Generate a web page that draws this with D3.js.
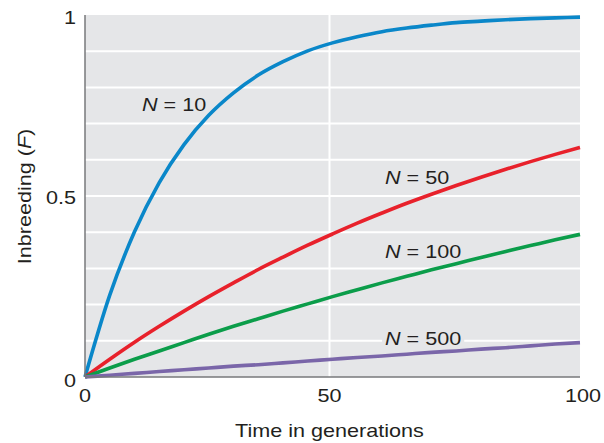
<!DOCTYPE html>
<html><head><meta charset="utf-8">
<script src="https://cdn.jsdelivr.net/npm/d3@7"></script>
<style>body{margin:0;background:#fff}svg{display:block;font-family:"Liberation Sans",Arial,Helvetica,sans-serif}</style>
</head><body><svg id="c" width="604" height="443"></svg>
<script>
const generations = [0,5,10,15,20,25,30,35,40,45,50,55,60,65,70,75,80,85,90,95,100];
const f_N10  = [0,0.226,0.401,0.537,0.642,0.723,0.785,0.834,0.871,0.901,0.923,0.940,0.954,0.964,0.972,0.979,0.983,0.987,0.990,0.992,0.994];
const f_N50  = [0,0.049,0.096,0.140,0.182,0.222,0.260,0.297,0.331,0.364,0.395,0.425,0.453,0.480,0.505,0.529,0.552,0.574,0.595,0.615,0.634];
const f_N100 = [0,0.025,0.049,0.072,0.095,0.118,0.140,0.161,0.182,0.202,0.222,0.241,0.260,0.278,0.296,0.313,0.330,0.347,0.363,0.379,0.394];
const f_N500 = [0,0.005,0.010,0.015,0.020,0.025,0.030,0.034,0.039,0.044,0.049,0.054,0.058,0.063,0.068,0.072,0.077,0.081,0.086,0.091,0.095];
const seriesNames = ["N = 10","N = 50","N = 100","N = 500"];
const seriesValues = [f_N10, f_N50, f_N100, f_N500];
const seriesColors = ["#0a87c9","#e8212b","#0b9d4a","#7a66a9"];
const xTicks = [0,50,100];
const yTickLabels = [[0,"0"],[0.5,"0.5"],[1,"1"]];
const labelPos = [[11.5,0.736],[60.6,0.534],[60.6,0.330],[60.6,0.089]]; // [generation, F] label anchors

const svg = d3.select("#c");
const x = d3.scaleLinear().domain([0,100]).range([85,580]);
const y = d3.scaleLinear().domain([0,1]).range([377,15]);
const txt = "#231f20";
const FS = 18, SX = 1.2;

function label(parent, px, py, anchor, extra){
  return parent.append("text")
    .attr("transform", `translate(${px},${py})${extra||""} scale(${SX},1)`)
    .attr("text-anchor", anchor).attr("font-size", FS).attr("fill", txt);
}

svg.append("rect").attr("x",x(0)).attr("y",y(1)).attr("width",x(100)-x(0)).attr("height",y(0)-y(1)).attr("fill","#e5e6e8");
svg.append("g").selectAll("line").data(d3.range(1,10).map(d=>d/10)).join("line")
  .attr("x1",x(0)).attr("x2",x(100)).attr("y1",d=>y(d)).attr("y2",d=>y(d))
  .attr("stroke","#fff").attr("stroke-width",2);
svg.append("line").attr("x1",x(50)-3).attr("x2",x(50)-3).attr("y1",y(0)).attr("y2",y(1)).attr("stroke","#fff").attr("stroke-width",2);

const bgLayer = svg.append("g");
const line = d3.line().x((d,i)=>x(generations[i])).y(d=>y(d)).curve(d3.curveMonotoneX);
seriesValues.forEach((vals,k)=>{
  svg.append("path").attr("d",line(vals)).attr("fill","none").attr("stroke",seriesColors[k]).attr("stroke-width",3.6);
});

svg.append("line").attr("x1",x(0)).attr("x2",x(0)).attr("y1",y(1)).attr("y2",y(0)).attr("stroke","#77787b").attr("stroke-width",1.5);
svg.append("line").attr("x1",x(0)).attr("x2",x(100)).attr("y1",y(0)).attr("y2",y(0)).attr("stroke","#77787b").attr("stroke-width",1.5);

xTicks.forEach(d=>{
  label(svg, x(d)+(d===100?3:(d===50?-3:0)), 402, "middle").text(d);
});
yTickLabels.forEach(([v,s])=>{
  const py = v===0 ? 387 : (v===1 ? 24 : y(v)+8);
  label(svg, x(0)-9, py, "end").text(s);
});

seriesNames.forEach((name,k)=>{
  const [g,f] = labelPos[k];
  const t = label(svg, x(g), y(f), "start");
  t.append("tspan").attr("font-style","italic").text("N");
  t.append("tspan").text(name.slice(1));
  if(k===3){
    const bb = t.node().getBBox();
    bgLayer.append("rect").attr("x",x(g)-3).attr("y",y(f)-14).attr("width",bb.width*SX+6).attr("height",16).attr("fill","#e5e6e8");
  }
});

label(svg, 329.5, 437, "middle").text("Time in generations");
const yt = label(svg, 31, 196.5, "middle", " rotate(-90)");
yt.append("tspan").text("Inbreeding (");
yt.append("tspan").attr("font-style","italic").text("F");
yt.append("tspan").text(")");
</script></body></html>
